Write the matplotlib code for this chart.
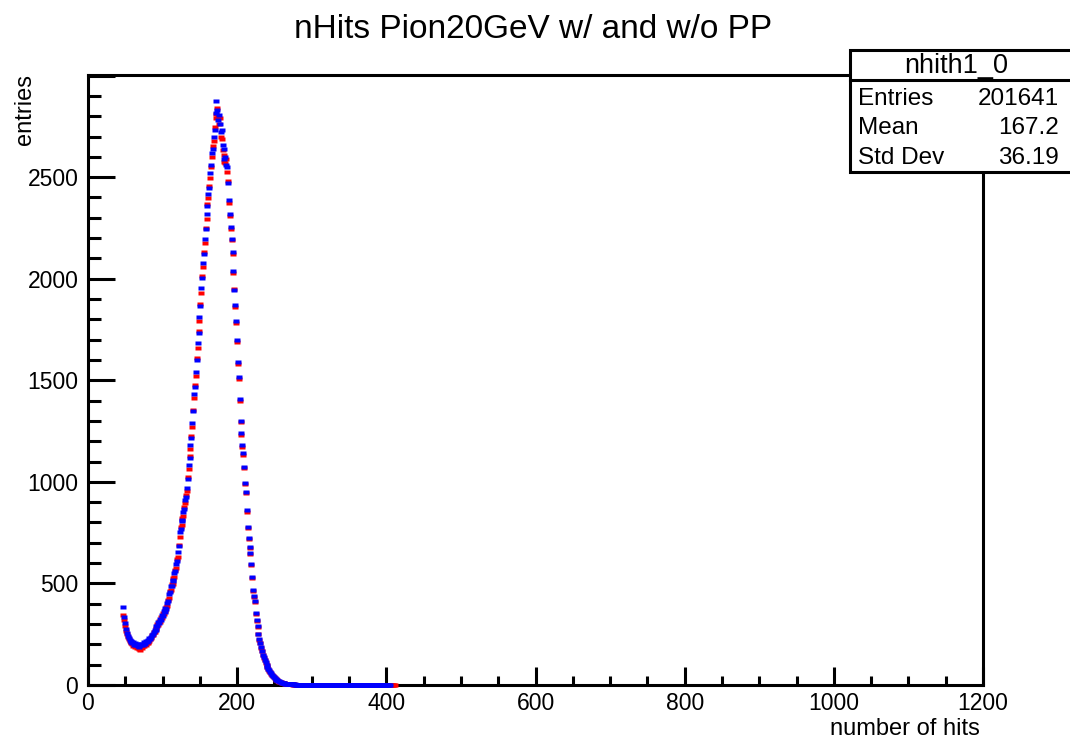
import numpy as np
import matplotlib
matplotlib.use("Agg")
import matplotlib.pyplot as plt
from matplotlib.patches import Rectangle
from matplotlib.lines import Line2D

plt.rcParams['font.family'] = ['Liberation Sans', 'DejaVu Sans']

# histogram: 1000 bins over 0-1200, first filled bin centre at 47.4
bin_width = 1.2
first_center = 47.4

nhits_blue = [
    385, 335, 305, 275, 255, 242, 232, 222, 217, 212,
    208, 212, 199, 206, 195, 201, 190, 198, 186, 200,
    195, 204, 199, 211, 203, 215, 210, 222, 216, 230,
    226, 237, 244, 251, 259, 272, 270, 290, 288, 309,
    305, 326, 322, 345, 340, 362, 358, 380, 376, 402,
    412, 446, 458, 485, 486, 514, 518, 552, 560, 598,
    612, 655, 682, 752, 768, 808, 812, 850, 866, 912,
    925, 972, 1012, 1082, 1118, 1182, 1218, 1292, 1348, 1432,
    1468, 1542, 1598, 1682, 1734, 1812, 1868, 1952, 2004, 2078,
    2124, 2198, 2244, 2318, 2358, 2418, 2448, 2522, 2558, 2620,
    2640, 2700, 2730, 2815, 2875, 2830, 2780, 2805, 2760, 2720,
    2730, 2660, 2640, 2590, 2600, 2560, 2550, 2470, 2390, 2320,
    2255, 2195, 2130, 2040, 1945, 1870, 1790, 1700, 1590, 1515,
    1410, 1300, 1240, 1180, 1140, 1075, 995, 950, 860, 780,
    725, 680, 650, 595, 530, 470, 440, 415, 355, 320,
    290, 252, 225, 207, 185, 168, 150, 137, 125, 112,
    100, 90, 81, 72, 64, 57, 51, 45, 40, 35,
    31, 27, 24, 21, 18, 15, 13, 11, 10, 9,
    8, 7, 6, 5, 5, 4,
    # tail
    4, 3, 4, 3, 3, 2, 3, 2, 2, 2, 2, 2, 1, 2, 1, 2, 1, 1, 2, 1,
    1, 1, 1, 1, 1, 1, 0, 1, 1, 1, 1, 0, 1, 1, 1, 0, 1, 1, 0, 1,
    1, 0, 1, 0, 1, 1, 0, 1, 0, 1, 0, 1, 1, 0, 1, 0, 0, 1, 0, 1,
    0, 1, 0, 0, 1, 0, 1, 0, 0, 1, 0, 0, 1, 0, 0, 1, 0, 0, 0, 1,
    0, 0, 1, 0, 0, 0, 1, 0, 0, 0, 0, 1, 0, 0, 0, 0, 1, 0, 0, 0,
    0, 0, 1, 0, 0, 0, 0, 0, 1, 0, 0, 0, 0,
]

nhits_red = [
    345, 320, 290, 268, 250, 236, 225, 218, 210, 205,
    200, 193, 198, 185, 190, 180, 187, 176, 183, 172,
    185, 182, 193, 190, 201, 196, 208, 205, 214, 218,
    226, 232, 248, 246, 262, 260, 279, 277, 298, 296,
    316, 312, 334, 330, 352, 348, 368, 365, 386, 390,
    420, 430, 464, 470, 496, 498, 528, 534, 566, 578,
    620, 632, 690, 728, 776, 788, 822, 832, 876, 894,
    934, 954, 1024, 1062, 1128, 1162, 1228, 1272, 1352, 1412,
    1478, 1522, 1608, 1660, 1742, 1792, 1878, 1932, 2012, 2058,
    2132, 2178, 2252, 2292, 2368, 2398, 2458, 2498, 2550, 2600,
    2655, 2680, 2745, 2790, 2810, 2840, 2800, 2760, 2790, 2700,
    2690, 2635, 2610, 2575, 2570, 2590, 2525, 2480, 2375, 2310,
    2245, 2190, 2120, 2030, 1950, 1860, 1780, 1690, 1580, 1505,
    1400, 1295, 1230, 1170, 1130, 1070, 990, 945, 850, 775,
    720, 675, 645, 590, 525, 465, 435, 410, 350, 315,
    285, 250, 222, 205, 182, 165, 148, 135, 122, 110,
    98, 88, 80, 71, 63, 56, 50, 44, 39, 34,
    30, 26, 23, 20, 17, 15, 13, 11, 10, 9,
    8, 7, 6, 5, 4, 4,
    # tail
    4, 3, 3, 3, 2, 3, 2, 2, 2, 2, 1, 2, 2, 1, 1, 2, 1, 1, 1, 1,
    1, 1, 0, 1, 1, 1, 0, 1, 1, 0, 1, 1, 0, 1, 0, 1, 1, 0, 1, 0,
    1, 0, 1, 1, 0, 0, 1, 0, 1, 0, 0, 1, 0, 1, 0, 0, 1, 0, 0, 1,
    0, 0, 1, 0, 0, 1, 0, 0, 0, 1, 0, 1, 0, 0, 0, 1, 0, 0, 0, 1,
    0, 0, 0, 1, 0, 0, 0, 0, 1, 0, 0, 0, 1, 0, 0, 0, 0, 1, 0, 0,
    0, 0, 1, 0, 0, 0, 0, 1, 0, 0, 0, 0, 1, 0, 0, 0, 0, 1,
]

x_blue = first_center + bin_width * np.arange(len(nhits_blue))
x_red = first_center + bin_width * np.arange(len(nhits_red))

stats_name = "nhith1_0"
stats_rows = [("Entries", "201641"), ("Mean", "167.2"), ("Std Dev", "36.19")]

W, H = 1070, 742
fig = plt.figure(figsize=(W / 100, H / 100), dpi=100)
ax = fig.add_axes([88 / W, 1 - 685 / H, (983 - 88) / W, (685 - 75) / H])

rect = [(-1.0, -0.7), (1.0, -0.7), (1.0, 0.7), (-1.0, 0.7)]
ax.plot(x_red, nhits_red, ls='none', marker=rect, ms=4.4, mfc='#ff0000', mec='none',
        clip_on=False, zorder=3)
ax.plot(x_blue, nhits_blue, ls='none', marker=rect, ms=4.4, mfc='#0000ff', mec='none',
        clip_on=False, zorder=3)

ax.set_xlim(0, 1200)
ax.set_ylim(0, 3003)
ax.set_xticks(np.arange(0, 1201, 200))
ax.set_xticks(np.arange(0, 1201, 50), minor=True)
ax.set_yticks(np.arange(0, 3001, 500))
ax.set_yticks(np.arange(0, 3001, 100), minor=True)
ax.set_yticklabels([str(v) for v in range(0, 3001, 500)][:-1] + [''])

for s in ax.spines.values():
    s.set_linewidth(2.2)
ax.tick_params(axis='both', which='both', direction='in', top=False, right=False, labelsize=16.5, width=2.2)
ax.tick_params(axis='x', which='major', length=13, pad=5)
ax.tick_params(axis='x', which='minor', length=6.5)
ax.tick_params(axis='y', which='major', length=19.5, pad=7)
ax.tick_params(axis='y', which='minor', length=9.5)

fig.text(533 / W, 1 - 30 / H, "nHits Pion20GeV w/ and w/o PP", ha='center', va='center', fontsize=24)
fig.text(25 / W, 1 - 74 / H, "entries", rotation=90, ha='center', va='top', fontsize=17)
fig.text(980 / W, 1 - 729 / H, "number of hits", ha='right', va='center', fontsize=17)

# stats box
box = Rectangle((850 / W, 1 - 172 / H), (1090 - 850) / W, (172 - 50) / H, transform=fig.transFigure,
                facecolor='white', edgecolor='black', linewidth=2.2, clip_on=False)
fig.patches.append(box)
fig.lines.append(Line2D([850 / W, 1.0], [1 - 80 / H, 1 - 80 / H], transform=fig.transFigure, color='black', lw=2.2))
fig.text(956 / W, 1 - 66 / H, stats_name, ha='center', va='center', fontsize=19.5)
for i, (k, v) in enumerate(stats_rows):
    y = 1 - (99 + 29.5 * i) / H
    fig.text(858 / W, y, k, ha='left', va='center', fontsize=17.5)
    fig.text(1059 / W, y, v, ha='right', va='center', fontsize=17.5)

fig.savefig("out.png", dpi=100)
